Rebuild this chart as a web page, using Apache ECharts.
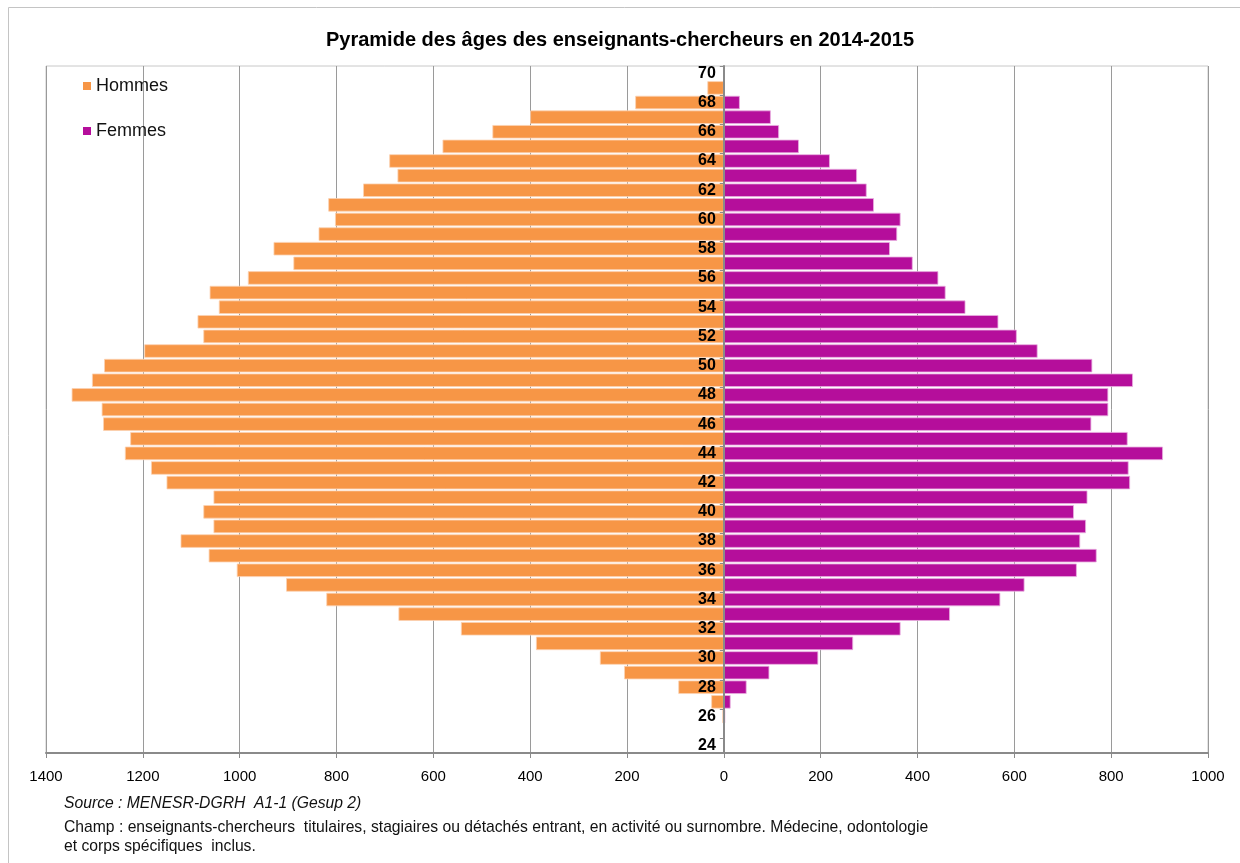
<!DOCTYPE html>
<html lang="fr">
<head>
<meta charset="utf-8">
<title>Pyramide des âges des enseignants-chercheurs en 2014-2015</title>
<script src="https://cdn.jsdelivr.net/npm/echarts@6/dist/echarts.min.js"></script>
<style>
  html, body { margin: 0; padding: 0; background: #fff; }
  #chart { width: 1240px; height: 863px; }
</style>
</head>
<body>
<div id="chart"></div>
<script>
// Ages 24 to 70, bottom to top
const ages = [24, 25, 26, 27, 28, 29, 30, 31, 32, 33, 34, 35, 36, 37, 38, 39, 40, 41, 42, 43, 44, 45, 46, 47,
              48, 49, 50, 51, 52, 53, 54, 55, 56, 57, 58, 59, 60, 61, 62, 63, 64, 65, 66, 67, 68, 69, 70];

// Headcount of men per age (drawn to the left)
const hommes = [0, 0, 3, 26, 94, 206, 256, 388, 543, 672, 821, 904, 1006, 1064, 1122, 1054, 1075, 1054, 1151, 1183, 1237, 1226, 1282, 1285,
                1347, 1305, 1280, 1197, 1075, 1087, 1043, 1062, 983, 889, 930, 837, 803, 817, 745, 674, 691, 581, 478, 400, 183, 34, 0];

// Headcount of women per age (drawn to the right)
const femmes = [0, 0, 3, 14, 47, 94, 195, 267, 365, 467, 571, 621, 729, 770, 736, 748, 723, 751, 839, 836, 907, 834, 759, 794,
                794, 845, 761, 648, 605, 567, 499, 458, 443, 390, 343, 358, 365, 310, 295, 275, 219, 155, 114, 97, 33, 2, 0];

// Scale limits of the two half-axes
const maxHommes = 1400;
const maxFemmes = 1000;
const pas = 200;

const titre = 'Pyramide des âges des enseignants-chercheurs en 2014-2015';
const source = 'Source : MENESR-DGRH  A1-1 (Gesup 2)';
const champ1 = 'Champ : enseignants-chercheurs  titulaires, stagiaires ou détachés entrant, en activité ou surnombre. Médecine, odontologie';
const champ2 = 'et corps spécifiques  inclus.';

const FONT = '"Liberation Sans", Arial, sans-serif';
const GRID_LINE = '#9a9a9a';
const AXIS_LINE = '#8a8a8a';

// Horizontal layout: left half holds men, right half holds women, meeting at age axis
const PLOT_LEFT = 46;
const PLOT_RIGHT = 1208;
const CENTER = PLOT_LEFT + (PLOT_RIGHT - PLOT_LEFT) * maxHommes / (maxHommes + maxFemmes);
const TOP = 66;
const BOTTOM = 110;

const chart = echarts.init(document.getElementById('chart'), null, { renderer: 'canvas' });

function valueAxis(gridIndex, max, inverse) {
  return {
    type: 'value',
    gridIndex: gridIndex,
    min: 0,
    max: max,
    interval: pas,
    inverse: inverse,
    axisLine: { show: true, onZero: false, lineStyle: { color: AXIS_LINE, width: 2 } },
    axisTick: { show: true, length: 5, lineStyle: { color: AXIS_LINE } },
    splitLine: { show: true, lineStyle: { color: GRID_LINE, width: 1 } },
    axisLabel: {
      fontFamily: FONT,
      fontSize: 15,
      color: '#000',
      margin: 16,
      showMinLabel: !inverse,
      formatter: v => String(v)
    }
  };
}

chart.setOption({
  backgroundColor: '#ffffff',
  animation: false,
  textStyle: { fontFamily: FONT },
  title: {
    text: titre,
    left: 'center',
    top: 30,
    padding: 0,
    textStyle: { fontFamily: FONT, fontSize: 20, fontWeight: 'bold', color: '#000' }
  },
  legend: {
    data: ['Hommes', 'Femmes'],
    orient: 'vertical',
    left: 83,
    top: 77,
    padding: 0,
    itemGap: 27,
    itemWidth: 8,
    itemHeight: 8,
    icon: 'rect',
    itemStyle: { borderWidth: 0 },
    textStyle: { fontFamily: FONT, fontSize: 18, color: '#111' }
  },
  grid: [
    {
      left: PLOT_LEFT,
      width: CENTER - PLOT_LEFT,
      top: TOP,
      bottom: BOTTOM,
      show: true,
      borderColor: '#c8c8c8',
      borderWidth: 1
    },
    {
      left: CENTER,
      width: PLOT_RIGHT - CENTER,
      top: TOP,
      bottom: BOTTOM,
      show: true,
      borderColor: '#c8c8c8',
      borderWidth: 1
    }
  ],
  xAxis: [
    valueAxis(0, maxHommes, true),
    valueAxis(1, maxFemmes, false)
  ],
  yAxis: [
    {
      type: 'category',
      gridIndex: 0,
      data: ages.map(String),
      show: false
    },
    {
      type: 'category',
      gridIndex: 1,
      position: 'left',
      data: ages.map(String),
      z: 5,
      axisLine: { show: true, lineStyle: { color: AXIS_LINE, width: 2 } },
      axisTick: {
        show: true,
        length: 4,
        interval: (index) => index % 2 === 1,
        lineStyle: { color: AXIS_LINE }
      },
      axisLabel: {
        interval: 1,
        fontFamily: FONT,
        fontSize: 16,
        fontWeight: 'bold',
        color: '#000',
        margin: 8
      },
      splitLine: { show: false }
    }
  ],
  series: [
    {
      name: 'Hommes',
      type: 'bar',
      xAxisIndex: 0,
      yAxisIndex: 0,
      data: hommes,
      barCategoryGap: '8%',
      itemStyle: { color: '#F79646', borderColor: '#FBD2B2', borderWidth: 0.8 }
    },
    {
      name: 'Femmes',
      type: 'bar',
      xAxisIndex: 1,
      yAxisIndex: 1,
      data: femmes,
      barCategoryGap: '8%',
      itemStyle: { color: '#B50E9B', borderColor: '#E9AEDF', borderWidth: 0.8 }
    }
  ],
  graphic: [
    {
      type: 'rect',
      silent: true,
      shape: { x: 8.5, y: 7.5, width: 1300, height: 900 },
      style: { fill: 'none', stroke: '#c4c4c4', lineWidth: 1 }
    },
    {
      type: 'text',
      left: 64,
      top: 796,
      silent: true,
      style: { text: source, fontFamily: FONT, fontSize: 15.7, fontStyle: 'italic', fill: '#111' }
    },
    {
      type: 'text',
      left: 64,
      top: 820,
      silent: true,
      style: { text: champ1, fontFamily: FONT, fontSize: 15.7, fill: '#111' }
    },
    {
      type: 'text',
      left: 64,
      top: 839,
      silent: true,
      style: { text: champ2, fontFamily: FONT, fontSize: 15.7, fill: '#111' }
    }
  ]
});
</script>
</body>
</html>
